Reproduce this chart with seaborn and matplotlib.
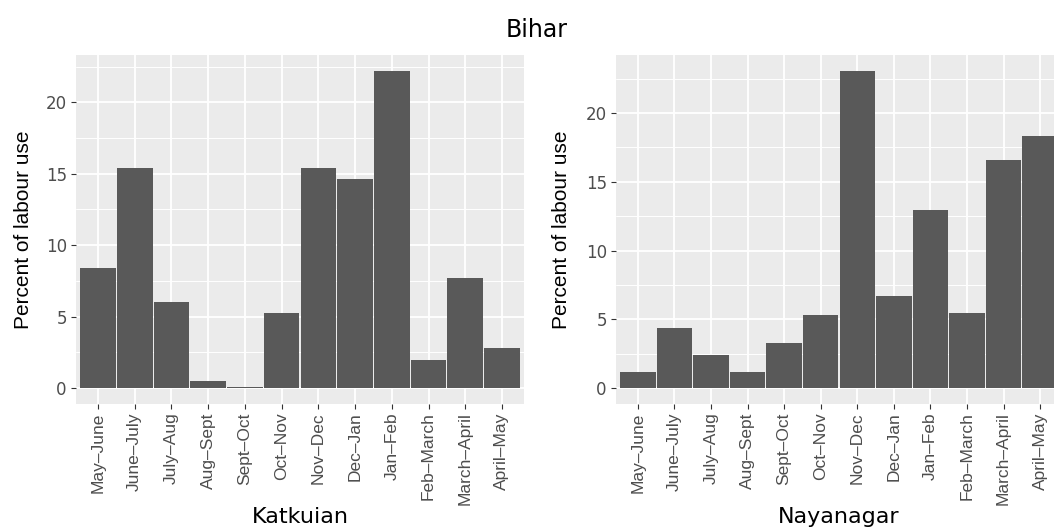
import matplotlib
matplotlib.use("Agg")
import matplotlib.pyplot as plt
from matplotlib.ticker import MultipleLocator
import pandas as pd
import seaborn as sns

# Two-month windows of the farming year
months = ["May–June", "June–July", "July–Aug", "Aug–Sept", "Sept–Oct", "Oct–Nov",
          "Nov–Dec", "Dec–Jan", "Jan–Feb", "Feb–March", "March–April", "April–May"]

# Share of annual labour use (%) in each window, per village
katkuian = [8.42, 15.37, 6.0, 0.53, 0.07, 5.23, 15.37, 14.6, 22.2, 2.0, 7.74, 2.81]
nayanagar = [1.16, 4.34, 2.41, 1.16, 3.25, 5.33, 23.06, 6.7, 12.94, 5.47, 16.58, 18.34]

villages = ["Katkuian", "Nayanagar"]
state = "Bihar"
y_title = "Percent of labour use"

BAR = "#595959"
PANEL = "#EBEBEB"
TICK_TXT = "#4D4D4D"
TICK_LINE = "#333333"
ROT_FONT = ["Liberation Sans", "DejaVu Sans"]

sns.set_theme(style="darkgrid")
plt.rcParams["font.family"] = ["DejaVu Sans"]

W, H = 1054, 529
fig = plt.figure(figsize=(W / 100, H / 100), dpi=100)
fig.patch.set_facecolor("white")

# panel boxes in pixels: left, right, top, bottom
boxes = [(76, 524, 55, 404), (616, 1062, 55, 404)]
ylabel_x = [-0.118, -0.123]

for (x0, x1, y0, y1), name, vals, ylx in zip(boxes, villages, [katkuian, nayanagar], ylabel_x):
    ax = fig.add_axes([x0 / W, (H - y1) / H, (x1 - x0) / W, (y1 - y0) / H])
    df = pd.DataFrame({"window": months, "share": vals})
    sns.barplot(data=df, x="window", y="share", ax=ax, color=BAR,
                saturation=1, width=0.97, linewidth=0)

    ax.set_facecolor(PANEL)
    for s in ax.spines.values():
        s.set_visible(False)

    top = max(vals)
    ax.set_ylim(-0.05 * top, 1.05 * top)
    ax.set_xlim(-0.6, len(months) - 0.4)

    ax.yaxis.set_major_locator(MultipleLocator(5))
    ax.yaxis.set_minor_locator(MultipleLocator(2.5))
    ax.set_axisbelow(True)
    ax.grid(True, which="major", axis="both", color="white", linewidth=1.3)
    ax.grid(True, which="minor", axis="y", color="white", linewidth=0.7)

    ax.tick_params(which="major", direction="out", length=3.6, width=0.8,
                   color=TICK_LINE, labelcolor=TICK_TXT)
    ax.tick_params(axis="y", which="major", pad=3, labelsize=12, left=True)
    ax.tick_params(axis="x", which="major", pad=2.5, bottom=True)
    ax.tick_params(which="minor", length=0)

    ax.set_xticks(range(len(months)))
    ax.set_xticklabels(months, rotation=90, ha="center", va="top",
                       fontsize=12.5, family=ROT_FONT, color=TICK_TXT)

    ax.set_ylabel(y_title, fontsize=15, family=ROT_FONT, color="black")
    ax.yaxis.set_label_coords(ylx, 0.5)
    ax.yaxis.label.set_verticalalignment("center")

    ax.set_xlabel(name, fontsize=16, color="black")
    ax.xaxis.set_label_coords(0.5, -0.342)
    ax.xaxis.label.set_verticalalignment("baseline")

fig.text(537 / W, 1 - 36.7 / H, state, ha="center", va="baseline",
         fontsize=17, color="black")

fig.savefig("out.png", dpi=100)
